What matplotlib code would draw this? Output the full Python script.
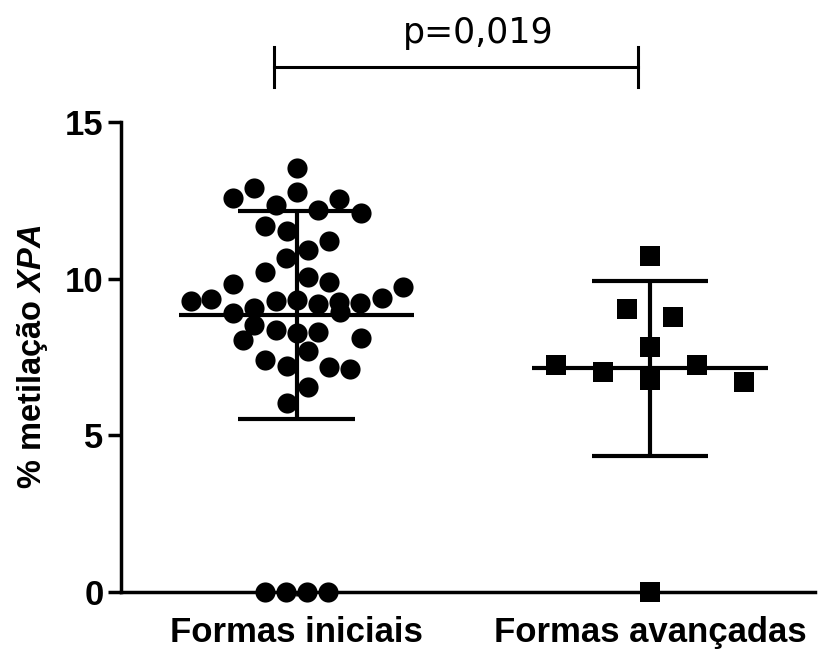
import numpy as np
import matplotlib
matplotlib.use("Agg")
import matplotlib.pyplot as plt

plt.rcParams['font.family'] = ['Liberation Sans', 'DejaVu Sans']
plt.rcParams['mathtext.fontset'] = 'custom'
plt.rcParams['mathtext.it'] = 'Liberation Sans:bold:italic'
plt.rcParams['mathtext.rm'] = 'Liberation Sans:bold'

categories = ["Formas iniciais", "Formas avançadas"]

# Group 1: Formas iniciais (values and horizontal scatter offsets)
g1_values = [13.52, 12.90, 12.56, 12.78, 12.35, 12.53, 12.19, 12.09, 11.68, 11.53,
             11.21, 10.92, 10.65, 10.22, 9.83, 10.06, 9.90, 9.74, 9.29, 9.34,
             9.05, 9.29, 9.32, 9.18, 9.27, 9.21, 9.37, 8.90, 8.95, 8.52,
             8.36, 8.26, 8.31, 8.04, 8.10, 7.70, 7.40, 7.21, 7.19, 7.11,
             6.55, 6.02, 0.0, 0.0, 0.0, 0.0]
g1_offsets = [0.00, -0.121, -0.181, 0.00, -0.059, 0.121, 0.061, 0.181, -0.090, -0.028,
              0.092, 0.031, -0.030, -0.090, -0.179, 0.031, 0.092, 0.302, -0.300, -0.241,
              -0.121, -0.059, 0.00, 0.061, 0.121, 0.179, 0.241, -0.179, 0.123, -0.121,
              -0.059, 0.00, 0.061, -0.151, 0.181, 0.031, -0.090, -0.028, 0.092, 0.151,
              0.031, -0.028, -0.090, -0.030, 0.030, 0.089]

# Group 2: Formas avançadas
g2_values = [10.72, 9.02, 8.77, 7.81, 7.25, 7.03, 7.25, 6.77, 6.71, 0.0]
g2_offsets = [0.00, -0.066, 0.066, 0.00, -0.266, -0.132, 0.134, 0.00, 0.267, 0.00]

p_text = "p=0,019"
yticks = [0, 5, 10, 15]

fig = plt.figure(figsize=(8.19, 6.52), dpi=100)
ax = fig.add_axes([121/819, 60/652, (815-121)/819, 470/652])

groups = [(g1_values, g1_offsets, 'o'), (g2_values, g2_offsets, 's')]
for i, (vals, offs, mk) in enumerate(groups):
    vals = np.array(vals)
    x = i + np.array(offs)
    ax.plot(x, vals, linestyle='none', marker=mk, markersize=14.5,
            color='black', markeredgewidth=0, clip_on=False, zorder=3)
    m = vals.mean()
    sd = vals.std(ddof=1)
    lw = 3.0
    ax.hlines(m, i - 0.333, i + 0.333, color='black', lw=lw, zorder=4)
    ax.hlines([m - sd, m + sd], i - 0.165, i + 0.165, color='black', lw=lw, zorder=4)
    ax.vlines(i, m - sd, m + sd, color='black', lw=lw, zorder=4)

# significance bracket
bx0, bx1, by = -0.064, 0.966, 16.76
ax.plot([bx0, bx1], [by, by], color='black', lw=2.2, clip_on=False)
ax.plot([bx0, bx0], [by - 0.64, by + 0.64], color='black', lw=2.2, clip_on=False)
ax.plot([bx1, bx1], [by - 0.64, by + 0.64], color='black', lw=2.2, clip_on=False)
ax.text(0.513, by + 0.55, p_text, ha='center', va='bottom',
        fontsize=25, family='DejaVu Sans', color='black')

ax.set_xlim(-0.497, 1.467)
ax.set_ylim(0, 15)
ax.set_yticks(yticks)
ax.set_yticklabels([str(t) for t in yticks], fontsize=25, fontweight='bold')
ax.set_xticks([0, 1])
ax.set_xticklabels(categories, fontsize=25, fontweight='bold')

for s in ['top', 'right']:
    ax.spines[s].set_visible(False)
for s in ['left', 'bottom']:
    ax.spines[s].set_linewidth(2.5)
    ax.spines[s].set_color('black')

ax.tick_params(axis='y', length=9.5, width=2.5, pad=3, colors='black')
ax.tick_params(axis='x', length=3, width=2.0, pad=14, colors='black')

ax.set_ylabel('% metilação $\\mathit{XPA}$', fontsize=23.5, fontweight='bold')
ax.yaxis.set_label_coords(-0.102, 0.5)

fig.savefig('out.png', dpi=100)
